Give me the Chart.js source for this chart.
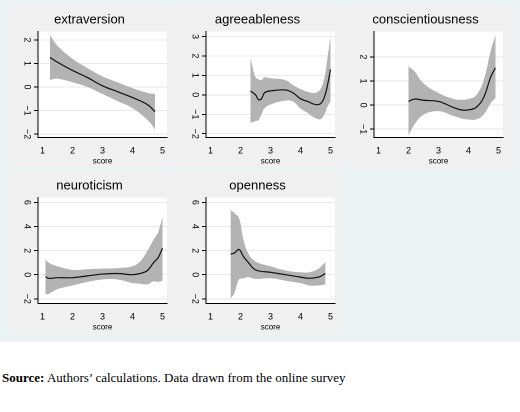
<!DOCTYPE html>
<html><head><meta charset="utf-8">
<script src="https://cdn.jsdelivr.net/npm/chart.js@4/dist/chart.umd.min.js"></script>
<style>
body{margin:0;background:#fff;font-family:"Liberation Serif",serif;}
#fig{position:absolute;left:0;top:0;width:520px;height:342px;background:#eaf2f2;}
.p{position:absolute;background:#f0f0f0;width:167px;height:162px;}
canvas{display:block;}
#src{position:absolute;left:2px;top:370px;font-size:13px;color:#000;font-family:"Liberation Serif",serif;}
</style></head><body>
<div id="fig"></div>
<div class="p" style="left:8px;top:6px"><canvas id="c0" width="167" height="162" style="width:167px;height:162px"></canvas></div>
<div class="p" style="left:176px;top:6px"><canvas id="c1" width="167" height="162" style="width:167px;height:162px"></canvas></div>
<div class="p" style="left:344px;top:6px"><canvas id="c2" width="167" height="162" style="width:167px;height:162px"></canvas></div>
<div class="p" style="left:8px;top:172px"><canvas id="c3" width="167" height="162" style="width:167px;height:162px"></canvas></div>
<div class="p" style="left:176px;top:172px"><canvas id="c4" width="167" height="162" style="width:167px;height:162px"></canvas></div>
<div id="src"><b>Source:</b> Authors’ calculations. Data drawn from the online survey</div>
<script>
const titles=["extraversion","agreeableness","conscientiousness","neuroticism","openness"];
const xTicks=[1,2,3,4,5];
const yTicks=[[-2,-1,0,1,2],[-2,-1,0,1,2,3],[-1,0,1,2],[-2,0,2,4,6],[-2,0,2,4,6]];
const yRange=[[-2.15,2.35],[-2.2,3.25],[-1.35,3.05],[-2.4,6.4],[-2.4,6.4]];
const xs=[
[1.25,1.5,2,2.5,3,3.5,4,4.5,4.75],
[2.33,2.5,2.6,2.7,2.8,3,3.5,3.75,4,4.25,4.5,4.67,4.8,4.9,5],
[2,2.2,2.5,3,3.5,3.75,4,4.25,4.5,4.75,4.9],
[1.1,1.2,1.5,2,2.5,3,3.5,4,4.25,4.5,4.7,4.85,5],
[1.67,1.8,1.95,2.1,2.25,2.5,3,3.5,4,4.3,4.6,4.83]];
const means=[
[1.25,1.05,0.7,0.4,0.05,-0.2,-0.45,-0.75,-1.05],
[0.2,0,-0.25,-0.2,0.1,0.2,0.25,0.1,-0.2,-0.35,-0.5,-0.45,-0.1,0.5,1.3],
[0.15,0.25,0.2,0.15,-0.1,-0.2,-0.2,-0.1,0.3,1.2,1.55],
[-0.15,-0.3,-0.25,-0.25,-0.1,0.05,0.1,0,0.1,0.35,1.0,1.4,2.2],
[1.7,1.8,2.1,1.5,1.05,0.4,0.2,0,-0.2,-0.3,-0.2,0.1]];
const uppers=[
[2.2,1.75,1.2,0.8,0.45,0.2,-0.05,-0.25,-0.3],
[1.9,0.9,0.8,0.75,0.9,0.85,0.75,0.5,0.3,0.15,0.1,0.3,0.9,1.9,3.0],
[1.6,1.4,0.9,0.5,0.25,0.22,0.25,0.4,1.0,2.3,2.9],
[1.3,1.0,0.7,0.4,0.45,0.5,0.55,0.7,1.1,2.0,2.9,3.5,4.8],
[5.4,5.1,4.7,2.9,1.8,1.1,0.7,0.35,0.2,0.2,0.5,1.05]];
const lowers=[
[0.3,0.35,0.2,0,-0.3,-0.6,-0.9,-1.4,-1.8],
[-1.45,-1.35,-1.3,-1.0,-0.7,-0.5,-0.3,-0.35,-0.7,-0.95,-1.2,-1.25,-1.0,-0.6,-0.35],
[-1.25,-0.8,-0.4,-0.25,-0.45,-0.55,-0.6,-0.6,-0.4,0.1,0.3],
[-1.6,-1.6,-1.2,-0.9,-0.6,-0.4,-0.4,-0.7,-0.75,-0.8,-0.55,-0.6,-0.5],
[-2,-1.5,-0.4,-0.3,-0.2,-0.35,-0.3,-0.5,-0.7,-0.9,-0.9,-0.8]];
const rotY={id:'rotY',afterDraw(ch){const s=ch.scales.y,c=ch.ctx;c.save();c.fillStyle='#000';c.font='9px "Liberation Sans"';c.textAlign='center';c.textBaseline='middle';
 s.ticks.forEach(t=>{const y=s.getPixelForValue(t.value);c.save();c.translate(s.right-11,y);c.rotate(Math.PI/2);c.fillText(String(t.value).replace('-','−'),0,0);c.restore();});c.restore();}};
const bg={id:'bg',beforeDraw(ch){const a=ch.chartArea,c=ch.ctx;c.save();c.fillStyle='#fff';c.fillRect(a.left,a.top,a.right-a.left,a.bottom-a.top);c.restore();}};
titles.forEach((t,i)=>{
 const pts=a=>a.map((v,j)=>({x:xs[i][j],y:v}));
 new Chart(document.getElementById('c'+i),{type:'line',
  data:{datasets:[
   {data:pts(uppers[i]),borderWidth:0,pointRadius:0,fill:'+1',backgroundColor:'#b3b3b3',tension:0.4,order:2},
   {data:pts(lowers[i]),borderWidth:0,pointRadius:0,fill:false,tension:0.4,order:3},
   {data:pts(means[i]),borderColor:'#111',borderWidth:1.2,pointRadius:0,fill:false,tension:0.4,order:0}]},
  options:{responsive:false,animation:false,devicePixelRatio:2,
   layout:{padding:{left:4,right:8,top:0,bottom:2}},
   plugins:{legend:{display:false},tooltip:{enabled:false},
    title:{display:true,text:t,color:'#000',font:{family:'Liberation Sans',size:13,weight:'normal'},padding:{top:6,bottom:4}}},
   scales:{
    x:{type:'linear',min:0.85,max:5.15,afterBuildTicks:s=>{s.ticks=xTicks.map(v=>({value:v}));},
     grid:{display:false,drawOnChartArea:false},border:{color:'#000'},
     ticks:{color:'#000',font:{family:'Liberation Sans',size:9},padding:0,maxRotation:0},
     title:{display:true,text:'score',color:'#000',font:{family:'Liberation Sans',size:8},padding:0}},
    y:{type:'linear',min:yRange[i][0],max:yRange[i][1],afterBuildTicks:s=>{s.ticks=yTicks[i].map(v=>({value:v}));},
     afterFit:s=>{s.width=26;},
     grid:{color:'#e8e8e8',drawTicks:true,tickColor:'#000',tickLength:4},border:{color:'#000'},
     ticks:{color:'rgba(0,0,0,0)',font:{size:9}}}}},
  plugins:[bg,rotY]});
});
</script></body></html>
